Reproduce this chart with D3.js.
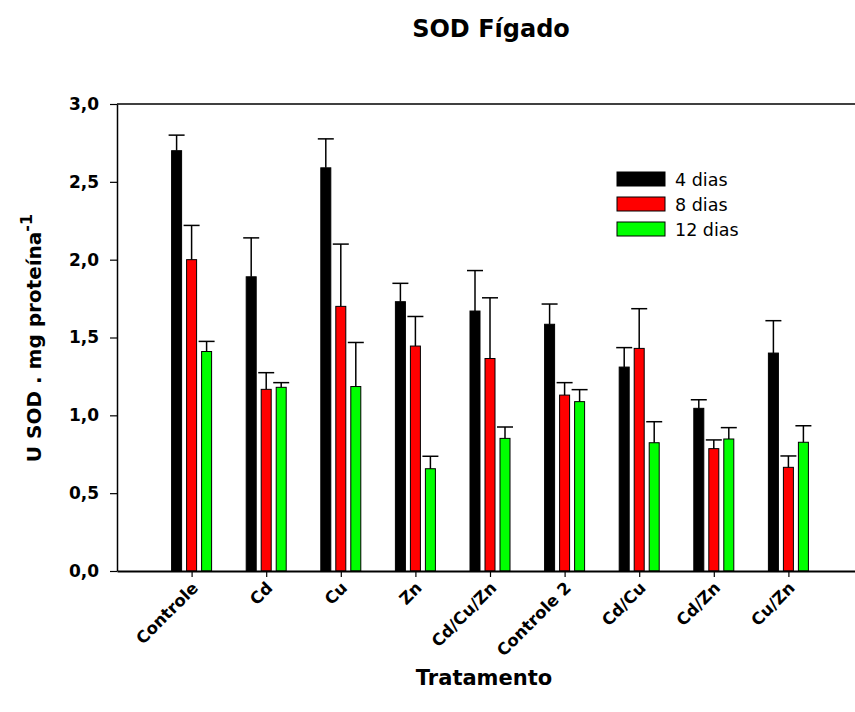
<!DOCTYPE html>
<html>
<head>
<meta charset="utf-8">
<script src="https://cdn.jsdelivr.net/npm/d3@7"></script>
<style>
  body { margin: 0; background: #fff; }
  svg { display: block; }
  text { font-family: "DejaVu Sans", Verdana, sans-serif; fill: #000; }
</style>
</head>
<body>
<svg id="chart" width="855" height="712"></svg>
<script>
// Tratamentos e séries (dias de exposição)
const categories = ["Controle", "Cd", "Cu", "Zn", "Cd/Cu/Zn", "Controle 2", "Cd/Cu", "Cd/Zn", "Cu/Zn"];
const seriesNames = ["4 dias", "8 dias", "12 dias"];
const seriesColors = ["#000000", "#ff0000", "#00ff00"];

// Médias (U SOD . mg proteína-1)
const dias4  = [2.70, 1.89, 2.59, 1.73, 1.67, 1.585, 1.31, 1.045, 1.40];
const dias8  = [2.00, 1.167, 1.70, 1.445, 1.365, 1.13, 1.43, 0.786, 0.666];
const dias12 = [1.41, 1.18, 1.185, 0.657, 0.852, 1.088, 0.824, 0.848, 0.827];

// Erros (barra superior)
const err4  = [0.10, 0.25, 0.186, 0.118, 0.26, 0.13, 0.125, 0.055, 0.208];
const err8  = [0.22, 0.107, 0.40, 0.19, 0.39, 0.08, 0.255, 0.056, 0.073];
const err12 = [0.065, 0.03, 0.283, 0.08, 0.073, 0.077, 0.135, 0.073, 0.106];

const yTicks = [0, 0.5, 1.0, 1.5, 2.0, 2.5, 3.0];

const svg = d3.select("#chart");

const mLeft = 117, mTop = 104, mBottom = 571, mRight = 863;

// Posições das categorias em 1..9 numa escala 0..10
const x = d3.scaleLinear().domain([0, 10]).range([mLeft, mRight]);
const y = d3.scaleLinear().domain([0, 3]).range([mBottom, mTop]);

const barW = 10, step = 15;
const values = [dias4, dias8, dias12];
const errors = [err4, err8, err12];

const fmt = d => d3.format(".1f")(d).replace(".", ",");

// Título
svg.append("text")
  .attr("x", 491).attr("y", 37)
  .attr("text-anchor", "middle")
  .style("font-size", "24px").style("font-weight", "bold")
  .text("SOD Fígado");

// Barras
const plot = svg.append("g");
values.forEach((vals, s) => {
  const g = plot.append("g");
  g.selectAll("rect")
    .data(vals)
    .join("rect")
    .attr("x", (d, i) => x(i + 1) + (s - 1) * step - barW / 2)
    .attr("y", d => y(d))
    .attr("width", barW)
    .attr("height", d => y(0) - y(d))
    .attr("fill", seriesColors[s])
    .attr("stroke", "#000")
    .attr("stroke-width", 1);

  // Barras de erro
  const eg = plot.append("g").attr("stroke", "#000").attr("stroke-width", 1.5);
  vals.forEach((d, i) => {
    const cx = x(i + 1) + (s - 1) * step;
    const e = errors[s][i];
    eg.append("line").attr("x1", cx).attr("x2", cx).attr("y1", y(d)).attr("y2", y(d + e));
    eg.append("line").attr("x1", cx - 8).attr("x2", cx + 8).attr("y1", y(d + e)).attr("y2", y(d + e));
  });
});

// Eixo Y
const yAxis = d3.axisLeft(y).tickValues(yTicks).tickFormat(fmt).tickSize(7).tickSizeOuter(0);
const gy = svg.append("g").attr("transform", `translate(${mLeft},0)`).call(yAxis);
gy.select(".domain").attr("stroke", "#000").attr("stroke-width", 1.5);
gy.selectAll(".tick line").attr("stroke", "#000").attr("stroke-width", 1.2);
gy.selectAll(".tick text")
  .attr("x", -18)
  .style("font-size", "17px").style("font-weight", "bold")
  .style("font-family", "\"DejaVu Sans\", Verdana, sans-serif");

// Eixo X
const xAxis = d3.axisBottom(x).tickValues(d3.range(1, 10)).tickFormat(i => categories[i - 1]).tickSize(6).tickSizeOuter(0);
const gx = svg.append("g").attr("transform", `translate(0,${mBottom})`).call(xAxis);
gx.select(".domain").attr("stroke", "#000").attr("stroke-width", 2);
gx.selectAll(".tick line").attr("stroke", "#000").attr("stroke-width", 1.2);
gx.selectAll(".tick text")
  .attr("text-anchor", "end")
  .attr("dy", null)
  .attr("y", 0)
  .attr("transform", "translate(7,18) rotate(-45)")
  .style("font-size", "16.5px").style("font-weight", "bold")
  .style("font-family", "\"DejaVu Sans\", Verdana, sans-serif");

// Linha superior do quadro
svg.append("line")
  .attr("x1", mLeft).attr("x2", mRight)
  .attr("y1", mTop).attr("y2", mTop)
  .attr("stroke", "#000").attr("stroke-width", 1.5);

// Títulos dos eixos
svg.append("text")
  .attr("x", 484).attr("y", 685)
  .attr("text-anchor", "middle")
  .style("font-size", "21px").style("font-weight", "bold")
  .text("Tratamento");

const yl = svg.append("text")
  .attr("transform", "translate(41,338) rotate(-90)")
  .attr("text-anchor", "middle")
  .style("font-size", "20px").style("font-weight", "bold");
yl.append("tspan").text("U SOD . mg proteína");
yl.append("tspan").attr("dy", -9).style("font-size", "16px").text("-1");

// Legenda
const legend = svg.append("g");
seriesNames.forEach((name, s) => {
  legend.append("rect")
    .attr("x", 617).attr("y", 172 + s * 25)
    .attr("width", 48).attr("height", 14)
    .attr("fill", seriesColors[s])
    .attr("stroke", "#000").attr("stroke-width", 1);
  legend.append("text")
    .attr("x", 675).attr("y", 186 + s * 25)
    .style("font-size", "17.5px")
    .text(name);
});
</script>
</body>
</html>
